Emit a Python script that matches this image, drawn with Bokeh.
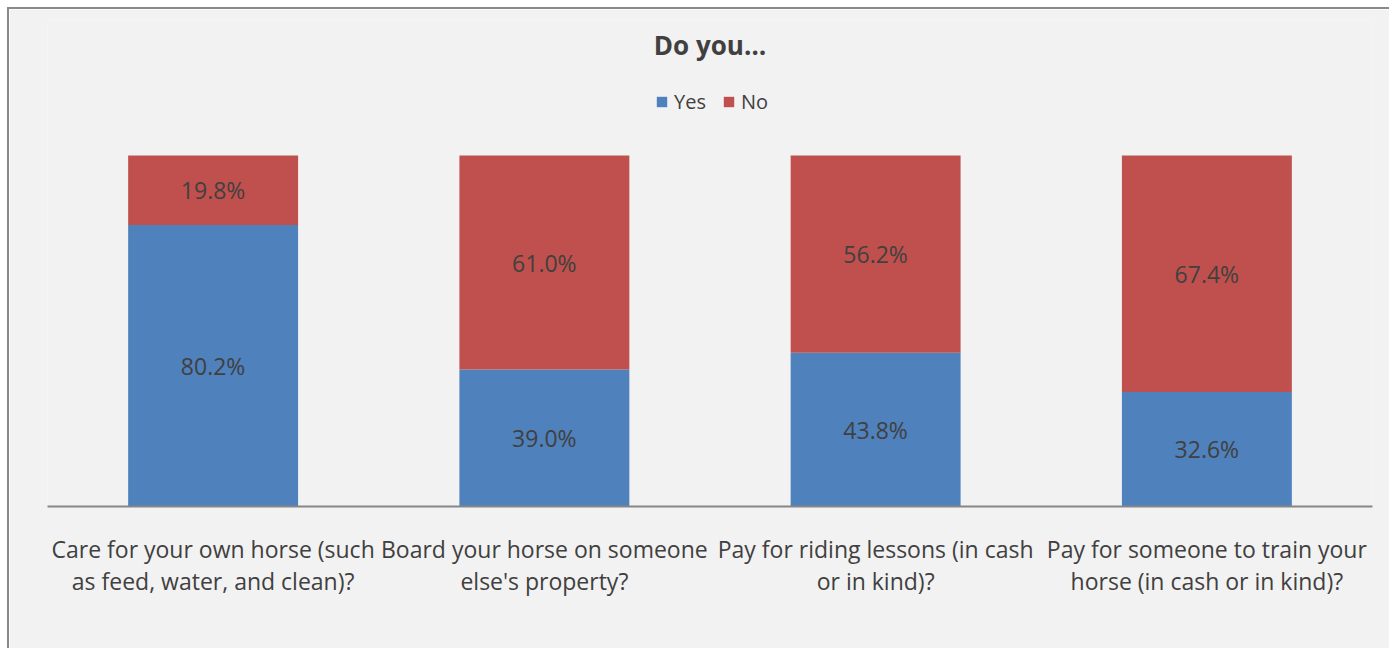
from bokeh.plotting import figure
from bokeh.models import Range1d, FixedTicker, Label, Legend, LegendItem, ColumnDataSource
from bokeh.core.properties import value
from bokeh.embed import file_html
from bokeh.resources import INLINE

categories = [
    "Care for your own horse (such\nas feed, water, and clean)?",
    "Board your horse on someone\nelse's property?",
    "Pay for riding lessons (in cash\nor in kind)?",
    "Pay for someone to train your\nhorse (in cash or in kind)?",
]
yes_vals = [0.802, 0.390, 0.438, 0.326]
no_vals = [0.198, 0.610, 0.562, 0.674]
series = ["Yes", "No"]
colors = ["#4f81bd", "#c0504d"]
title_text = "Do you…"

FONT = "Open Sans"
TXT = "#404040"
BG = "#f2f2f2"

xs = [i + 0.5 for i in range(len(categories))]
src = ColumnDataSource(dict(x=xs, Yes=yes_vals, No=no_vals))

W, H = 1382, 641
p = figure(width=W, height=H, output_backend="svg", toolbar_location=None,
           x_range=Range1d(0, 4), y_range=Range1d(0, 486 / 351),
           y_axis_location=None, min_border_left=38, min_border_right=19,
           min_border_top=11, min_border_bottom=144)
p.background_fill_color = BG
p.border_fill_color = BG
p.outline_line_color = None
p.grid.visible = False
p.styles = {"border-left": "2px solid #898989", "border-top": "2px solid #898989",
            "margin-left": "7px", "margin-top": "7px"}

rs = p.vbar_stack(series, x="x", width=0.513, source=src, color=colors, line_color=None)

# value labels
lx, ly, lt = [], [], []
for i, x in enumerate(xs):
    lx.append(x); ly.append(yes_vals[i] / 2); lt.append(f"{yes_vals[i]*100:.1f}%")
    lx.append(x); ly.append(yes_vals[i] + no_vals[i] / 2); lt.append(f"{no_vals[i]*100:.1f}%")
p.text(x=lx, y=ly, text=lt, text_align="center", text_baseline="middle",
       text_font=value(FONT), text_font_size="23px", text_color=TXT)

ax = p.xaxis[0]
ax.ticker = FixedTicker(ticks=xs)
ax.major_label_overrides = {x: c for x, c in zip(xs, categories)}
ax.major_label_text_font = FONT
ax.major_label_text_font_size = "23px"
ax.major_label_text_color = TXT
ax.major_label_text_line_height = 1.0
ax.major_label_standoff = 26
ax.major_tick_line_color = None
ax.minor_tick_line_color = None
ax.major_tick_out = 0
ax.axis_line_color = "#868686"
ax.axis_line_width = 2

p.add_layout(Label(x=2.0, y=(506 - 44) / 351, text=title_text, text_align="center",
                   text_baseline="middle", text_font=FONT, text_font_size="26px",
                   text_font_style="bold", text_color=TXT))

legend = Legend(items=[LegendItem(label=s, renderers=[r]) for s, r in zip(series, rs)],
                orientation="horizontal", location=(608, 391),
                background_fill_alpha=0, border_line_color=None,
                padding=0, margin=0, spacing=16, label_standoff=6,
                glyph_width=13, glyph_height=13, label_height=20,
                label_text_font=FONT, label_text_font_size="20px", label_text_color=TXT)
p.add_layout(legend)

open("out.html", "w").write(file_html(p, INLINE))
